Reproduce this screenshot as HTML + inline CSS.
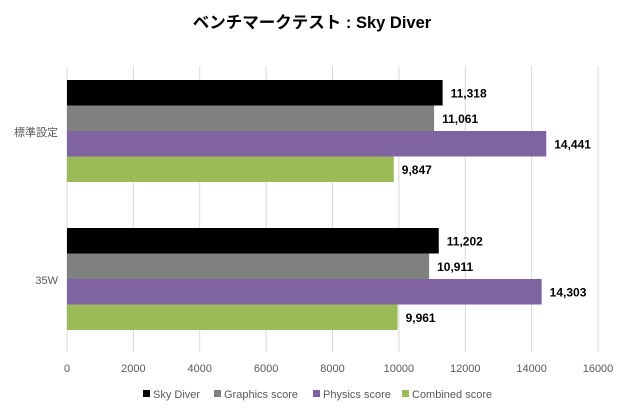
<!DOCTYPE html>
<html><head><meta charset="utf-8"><style>
body{margin:0;background:#fff;width:620px;height:410px;overflow:hidden}
svg{font-family:"Liberation Sans","Noto Sans CJK JP",sans-serif}
</style></head><body>
<svg width="620" height="410">
<text x="312" y="28" text-anchor="middle" font-size="16.5" font-weight="bold" fill="#000">ベンチマークテスト : Sky Diver</text>
<g id="grid"></g><g id="bars"></g><g id="labels"></g><g id="legend"></g>
</svg>
<script>
const categories=["標準設定","35W"];
const seriesNames=["Sky Diver","Graphics score","Physics score","Combined score"];
const colors=["#000000","#808080","#8064a2","#9bbb59"];
const skyDiver=[11318,11202];
const graphics=[11061,10911];
const physics=[14441,14303];
const combined=[9847,9961];
const tickValues=[0,2000,4000,6000,8000,10000,12000,14000,16000];
const tickLabels=["0","2000","4000","6000","8000","10000","12000","14000","16000"];
const series=[skyDiver,graphics,physics,combined];
const NS="http://www.w3.org/2000/svg";
const x0=67,x1=598,xMax=16000;
const xs=v=>x0+v/xMax*(x1-x0);
const groupTop=[80,228],barH=25.5;
function mk(t,a,p){const e=document.createElementNS(NS,t);for(const k in a)e.setAttribute(k,a[k]);p.appendChild(e);return e;}
const grid=document.getElementById('grid');
tickValues.forEach((v,i)=>{
 const x=xs(v),lab=tickLabels[i];
 const l=mk('line',{x1:x,x2:x,y1:66,y2:352,stroke:'#d9d9d9','stroke-width':1},grid);
 
 
 const t=mk('text',{x:x,y:372,'text-anchor':'middle','font-size':11,fill:'#595959'},grid);
 t.textContent=lab;
 
 
});
const bars=document.getElementById('bars'),labels=document.getElementById('labels');
categories.forEach((c,ci)=>{
 const ct=mk('text',{x:58,y:groupTop[ci]+2*barH+5,'text-anchor':'end','font-size':11,fill:'#595959'},labels);
 ct.textContent=c;
 
 
 series.forEach((s,si)=>{
  const y=groupTop[ci]+si*barH;
  const r=mk('rect',{x:x0,y:y,width:xs(s[ci])-x0,height:barH,fill:colors[si]},bars);
  
  
  const t=mk('text',{x:xs(s[ci])+8,y:y+barH/2+4.5,'font-size':12,'font-weight':'bold',fill:'#000'},labels);
  t.textContent=s[ci].toLocaleString('en-US');
  
  
 });
});
const lg=document.getElementById('legend');
const lx=[143,214,313,402];
seriesNames.forEach((n,i)=>{
 const r=mk('rect',{x:lx[i],y:390,width:7,height:7,fill:colors[i]},lg);
 
 
 const t=mk('text',{x:lx[i]+10,y:398,'font-size':11,fill:'#595959'},lg);
 t.textContent=n;
 
 
});
</script>
</body></html>
